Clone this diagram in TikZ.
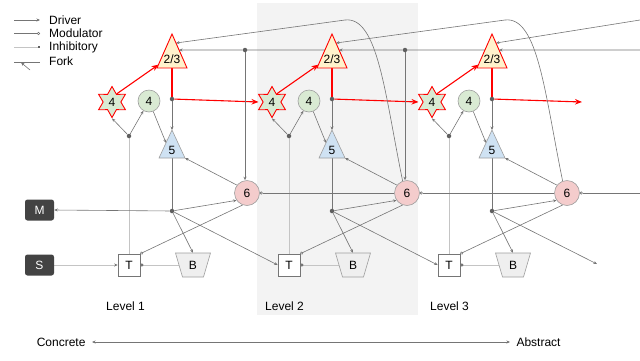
\documentclass[tikz,border=0pt]{standalone}
\usepackage{fontspec}
\setmainfont{Liberation Sans}
\usetikzlibrary{arrows.meta,shapes.geometric,calc}
\pgfdeclarelayer{bg}\pgfdeclarelayer{edges}
\pgfsetlayers{bg,edges,main}
\definecolor{lnc}{HTML}{757575}
\definecolor{ltc}{HTML}{C4C4C4}
\definecolor{dotc}{HTML}{5F5F5F}
\definecolor{bgc}{HTML}{F3F3F3}
\definecolor{grn}{HTML}{D9EAD3}
\definecolor{yel}{HTML}{FFF2CC}
\definecolor{blu}{HTML}{CFE2F3}
\definecolor{pnk}{HTML}{F4CCCC}
\definecolor{bgr}{HTML}{EFEFEF}
\definecolor{brd}{HTML}{9E9E9E}
\definecolor{dk}{HTML}{434343}
\definecolor{rr}{HTML}{FF0000}
\newcommand\mytri[6]{%
  \coordinate (#1-t) at (#2,#3);
  \coordinate (#1-bl) at ({#2-#4},{#3+#5});
  \coordinate (#1-br) at ({#2+#4},{#3+#5});
  \coordinate (#1-b) at (#2,{#3+#5});
  \filldraw[#6] (#1-t) -- (#1-br) -- (#1-bl) -- cycle;}
\newcommand\mytrap[2]{%
  \filldraw[trapst] ({#1-17.5},{#2-12}) -- ({#1+17.5},{#2-12}) -- ({#1+10.5},{#2+12}) -- ({#1-10.5},{#2+12}) -- cycle;}
\begin{document}
\begin{tikzpicture}[x=1pt,y=-1pt,font=\fontsize{12}{14}\selectfont,
  ln/.style={draw=lnc,line width=0.6pt},
  drv/.style={ln,-{Stealth[length=3.5pt,width=3pt]}},
  mod/.style={ln,-{Circle[open,length=3pt,width=3pt]}},
  lt/.style={draw=ltc,line width=1pt},
  ltdrv/.style={lt,-{Stealth[length=3.5pt,width=3pt,color=lnc]}},
  ltmod/.style={lt,-{Circle[open,length=3pt,width=3pt,color=lnc]}},
  inh/.style={lt,-{Square[length=2.5pt,width=2.5pt,color=dotc]}},
  rline/.style={draw=rr,line width=1.1pt,-{Stealth[length=7pt,width=5.5pt]}},
  rplain/.style={draw=rr,line width=1.1pt},
  lbl/.style={inner sep=0pt},
  txt/.style={inner sep=0pt,anchor=west},
  fdot/.style={circle,fill=dotc,inner sep=0pt,minimum size=4.5pt},
  star4/.style={star,star points=6,star point ratio=1.75,minimum size=31pt,inner sep=0pt,fill=grn,draw=rr,line width=0.9pt},
  circ4/.style={circle,minimum size=22pt,inner sep=0pt,fill=grn,draw=brd,line width=0.6pt},
  six/.style={circle,minimum size=25pt,inner sep=0pt,fill=pnk,draw=brd,line width=0.6pt},
  tri23/.style={fill=yel,draw=rr,line width=0.9pt,line join=miter},
  tri5/.style={fill=blu,draw=brd,line width=0.6pt},
  trapst/.style={fill=bgr,draw=brd,line width=0.6pt},
  tbox/.style={rectangle,minimum size=22pt,inner sep=0pt,fill=white,draw=lnc,line width=0.6pt},
  dbox/.style={rectangle,rounded corners=2.5pt,minimum width=29pt,minimum height=21pt,inner sep=0pt,fill=dk,text=white}]
\useasboundingbox (0,0) rectangle (640,360);
\begin{pgfonlayer}{bg}
\fill[bgc] (257,3) rectangle (418,315);
\end{pgfonlayer}
% legend
\node[txt] (lg1) at (49,20) {Driver};
\node[txt] (lg2) at (49,33.5) {Modulator};
\node[txt] (lg3) at (49,47) {Inhibitory};
\node[txt] (lg4) at (49,61) {Fork};
\coordinate (lg1a) at (14,20); \coordinate (lg1b) at (40,20);
\coordinate (lg2a) at (14,33.5); \coordinate (lg2b) at (40,33.5);
\coordinate (lg3a) at (14,47); \coordinate (lg3b) at (40,47);
\coordinate (lg4a) at (14,62); \coordinate (lg4b) at (40,62);
\coordinate (lg4c) at (30,70); \coordinate (lg4d) at (21,62.5);
\draw[drv] (lg1a) -- (lg1b);
\draw[mod] (lg2a) -- (lg2b);
\draw[inh] (lg3a) -- (lg3b);
\draw[ln] (lg4a) -- (lg4b);
\draw[drv] (lg4c) -- (lg4d);
% levels
\foreach \k/\x in {1/0,2/160,3/320}{
  \mytri{a\k}{172+\x}{34}{15}{34}{tri23}
  \node[lbl] (a\k) at (172+\x,59.5) {2/3};
  \node[star4] (st\k) at (112+\x,102) {4};
  \node[circ4] (ci\k) at (149+\x,101) {4};
  \mytri{fv\k}{172+\x}{130}{13}{28}{tri5}
  \node[lbl] (fv\k) at (172+\x,150) {5};
  \node[fdot] (rd\k) at (172+\x,99) {};
  \node[fdot] (fk\k) at (129+\x,136) {};
  \node[six] (six\k) at (247+\x,193) {6};
  \node[fdot] (ld\k) at (172+\x,211) {};
  \node[tbox] (T\k) at (129+\x,265) {T};
  \mytrap{193+\x}{265}
  \node[lbl,minimum width=28pt,minimum height=24pt] (B\k) at (193+\x,265) {B};
}
\node[dbox] (M) at (39.5,210) {M};
\node[dbox] (S) at (39.5,265) {S};
\node[fdot] (tf1) at (245,50) {};
\node[fdot] (tf2) at (405,50) {};
\node[txt] (lv1) at (106,306) {Level 1};
\node[txt] (lv2) at (265,306) {Level 2};
\node[txt] (lv3) at (430,306) {Level 3};
\node[anchor=east] (conc) at (89,342) {Concrete};
\node[anchor=west] (abst) at (513,342) {Abstract};
\coordinate (rend) at (582,102);
\coordinate (T4w) at (597,264);
\coordinate (rtop) at (640,50);
\coordinate (rtop2) at (640,20);
\coordinate (r6) at (640,193);
\begin{pgfonlayer}{edges}
\foreach \k in {1,2,3}{
  \draw[rline] (st\k.60) -- ($(a\k-t)!0.9!(a\k-bl)$);
  \draw[rplain] (a\k-b) -- (rd\k.center);
  \draw[drv] (rd\k) -- (fv\k-t);
  \draw[drv] (fk\k) -- (st\k.south);
  \draw[drv] (fk\k) -- (ci\k);
  \draw[lt] (T\k.north) -- (fk\k.center);
  \draw[drv] (ci\k) -- ($(fv\k-t)!0.46!(fv\k-bl)$);
  \draw[ln] (fv\k-b) -- (ld\k.center);
  \draw[drv] (six\k.142) -- (fv\k-br);
  \draw[drv] (ld\k) -- (six\k.215);
  \draw[drv] (ld\k) -- (B\k.north);
  \draw[mod] (six\k.250) -- (T\k.north east);
  \draw[ltmod] (B\k.west) -- (T\k.east);
}
\draw[rline] (rd1) -- ([xshift=-13.5pt]st2.center);
\draw[rline] (rd2) -- ([xshift=-13.5pt]st3.center);
\draw[rline] (rd3) -- (rend);
\draw[drv] (ld1) -- (M.east);
\draw[drv] (ld1) -- (T2.west);
\draw[drv] (ld2) -- (T3.west);
\draw[drv] (ld3) -- (T4w);
\draw[ltdrv] (S.east) -- (T1.west);
\draw[ln] ($(a2-t)!0.47!(a2-bl)$) -- (tf1.center);
\draw[drv] (tf1) -- ($(a1-t)!0.47!(a1-br)$);
\draw[drv] (tf1) -- (tf1 |- six1.north);
\draw[ln] ($(a3-t)!0.47!(a3-bl)$) -- (tf2.center);
\draw[drv] (tf2) -- ($(a2-t)!0.47!(a2-br)$);
\draw[drv] (tf2) -- (tf2 |- six2.north);
\draw[drv] (rtop) -- ($(a3-t)!0.47!(a3-br)$);
\draw[drv] (six2.110) .. controls (385,95) and (378,16) .. (345,20) -- ($(a1-t)!0.265!(a1-br)$);
\draw[drv] (six3.110) .. controls (545,95) and (538,16) .. (505,20) -- ($(a2-t)!0.265!(a2-br)$);
\draw[drv] (rtop2) -- ($(a3-t)!0.265!(a3-br)$);
\draw[mod] (six2.west) -- (six1.east);
\draw[mod] (six3.west) -- (six2.east);
\draw[mod] (r6) -- (six3.east);
\draw[ln,{Stealth[length=3.5pt,width=3pt]}-{Stealth[length=3.5pt,width=3pt]},shorten <=3pt,shorten >=3pt] (conc.east) -- (abst.west);
\end{pgfonlayer}
\end{tikzpicture}
\end{document}
